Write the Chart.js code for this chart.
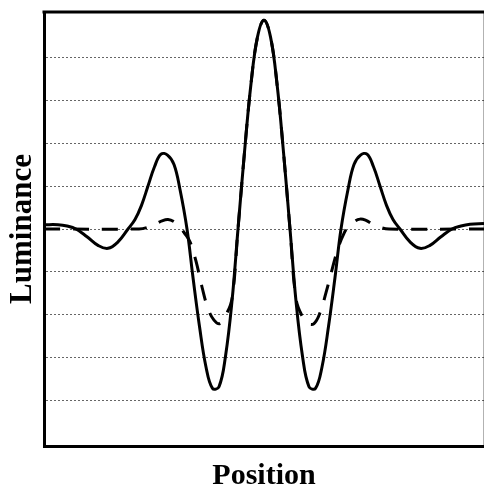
<!DOCTYPE html>
<html><head><meta charset="utf-8">
<script src="https://cdn.jsdelivr.net/npm/chart.js@4.4.0/dist/chart.umd.min.js"></script>
<style>html,body{margin:0;padding:0;background:#fff;}#wrap{width:484px;height:491px;position:relative;}</style>
</head><body><div id="wrap"><canvas id="c"></canvas></div>
<script>
// Position (pixel offset from centre) and luminance values
const solidPositions = [-220,-206,-197,-188,-177,-166,-156,-146,-136,-129,-122.5,-116,-109.5,-103,-96.5,-90,-84,-77,-71,-64.5,-58,-51.5,-45,-38.5,-32,-26,-19.5,-13,-6.5,0,
  6.5,13,19.5,26,32,38.5,45,51.5,58,64.5,71,77,84,90,96.5,103,109.5,116,122.5,129,136,146,156,166,177,188,197,206,220];
const solidLuminance = [0.10,0.10,0.07,0,-0.18,-0.38,-0.45,-0.30,0,0.22,0.55,1.0,1.45,1.74,1.72,1.50,0.92,0,-1.13,-2.27,-3.21,-3.71,-3.67,-2.96,-1.68,0,1.79,3.38,4.47,4.86,
  4.47,3.38,1.79,0,-1.68,-2.96,-3.67,-3.71,-3.21,-2.27,-1.13,0,0.92,1.50,1.72,1.74,1.45,1.0,0.55,0.22,0,-0.30,-0.45,-0.38,-0.18,0,0.07,0.11,0.13];
const dashedPositions = [-220,-125,-116,-108,-102,-96,-90,-84,-80,-74,-68,-62,-56,-50,-44,-38,-32,-26,-19.5,-13,-6.5,0,
  6.5,13,19.5,26,32,38,44,50,56,62,68,74,80,84,90,96,102,108,116,125,220];
const dashedLuminance = [0,0,0.04,0.12,0.19,0.22,0.17,0.05,-0.08,-0.3,-0.75,-1.35,-1.85,-2.12,-2.2,-2.0,-1.62,0,1.79,3.38,4.47,4.86,
  4.47,3.38,1.79,0,-1.62,-2.02,-2.2,-2.2,-1.95,-1.48,-0.95,-0.45,-0.1,0.04,0.17,0.23,0.2,0.12,0.04,0,0];
const gridLevels = [-4,-3,-2,-1,0,1,2,3,4];
const xAxisTitle = 'Position';
const yAxisTitle = 'Luminance';

const toPoints = (xs, ys) => xs.map((x, i) => ({x: x, y: ys[i]}));

const framePlugin = {
  id: 'frame',
  afterDraw(chart) {
    const {ctx, chartArea: a} = chart;
    ctx.save();
    ctx.strokeStyle = '#000';
    ctx.lineWidth = 3;
    ctx.beginPath();
    ctx.moveTo(a.left - 1.5, a.top);
    ctx.lineTo(a.right, a.top);
    ctx.stroke();
    ctx.strokeStyle = 'rgba(0,0,0,0.3)';
    ctx.lineWidth = 1;
    ctx.beginPath();
    ctx.moveTo(a.right - 0.5, a.top);
    ctx.lineTo(a.right - 0.5, a.bottom);
    ctx.stroke();
    ctx.restore();
  }
};

new Chart(document.getElementById('c'), {
  type: 'line',
  data: {
    datasets: [
      {
        data: toPoints(solidPositions, solidLuminance),
        borderColor: '#000', borderWidth: 3, pointRadius: 0,
        tension: 0.4, fill: false
      },
      {
        data: toPoints(dashedPositions, dashedLuminance),
        borderColor: '#000', borderWidth: 3, pointRadius: 0,
        borderDash: [16, 13],
        tension: 0.4, fill: false
      }
    ]
  },
  options: {
    responsive: true, maintainAspectRatio: false, animation: false,
    devicePixelRatio: 1,
    layout: {padding: {top: 12, right: 0, left: 0, bottom: 0}},
    plugins: {legend: {display: false}, tooltip: {enabled: false}},
    scales: {
      x: {
        type: 'linear', min: -220, max: 220,
        grid: {display: false, drawTicks: false},
        border: {display: true, color: '#000', width: 3},
        ticks: {display: false},
        title: {display: true, text: xAxisTitle, color: '#000',
          font: {family: '"Liberation Serif", "Times New Roman", serif', size: 30, weight: 'bold', lineHeight: 1},
          padding: {top: 0, bottom: 0}},
        afterFit(scale) { scale.height = 45; }
      },
      y: {
        type: 'linear', min: -5.05, max: 5.05,
        afterBuildTicks(scale) { scale.ticks = gridLevels.map(v => ({value: v})); },
        grid: {display: true, drawTicks: false, color: 'rgba(0,0,0,0.6)', lineWidth: 1},
        border: {display: true, color: '#000', width: 3, dash: [2, 2]},
        ticks: {display: false},
        title: {display: true, text: yAxisTitle, color: '#000',
          font: {family: '"Liberation Serif", "Times New Roman", serif', size: 31, weight: 'bold', lineHeight: 1},
          padding: {top: 7, bottom: 0}},
        afterFit(scale) { scale.width = 44; }
      }
    }
  },
  plugins: [framePlugin]
});
</script>
</body></html>
